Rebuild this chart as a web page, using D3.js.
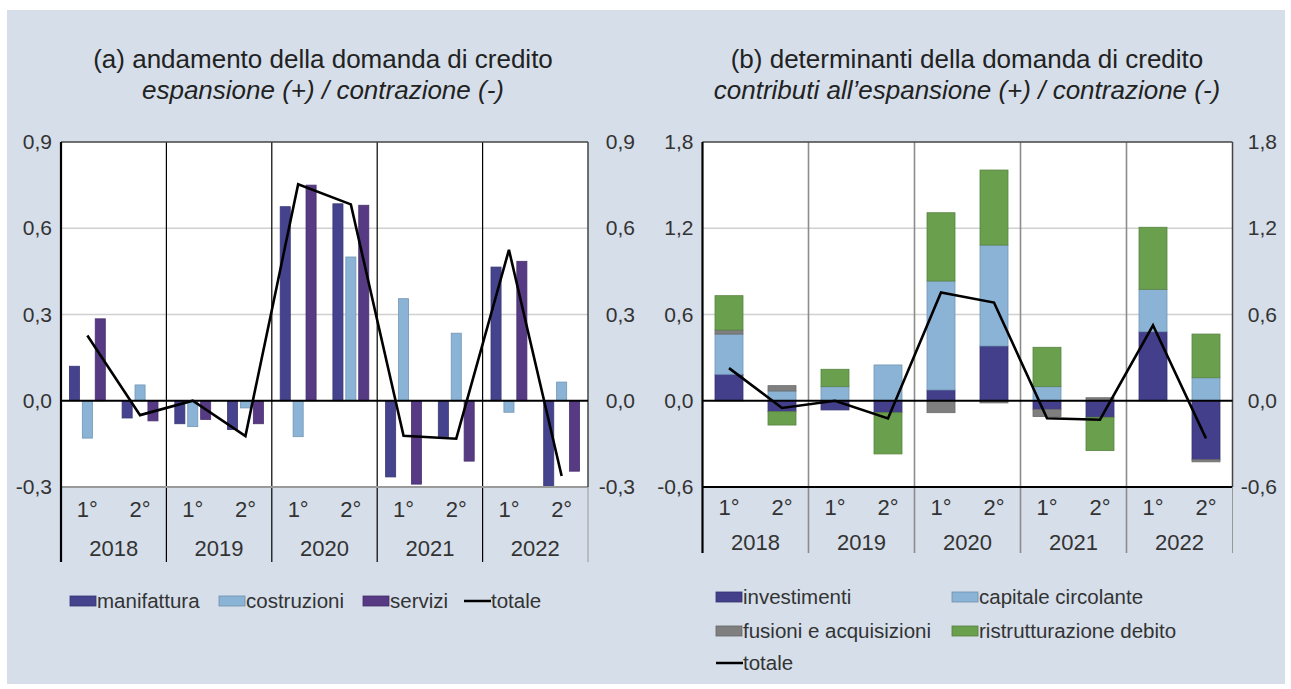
<!DOCTYPE html>
<html>
<head>
<meta charset="utf-8">
<script src="https://cdn.jsdelivr.net/npm/d3@7"></script>
<style>
  body { margin: 0; background: #fff; }
  svg text { font-family: "Liberation Sans", Arial, sans-serif; fill: #333; }
  .title { font-size: 26px; fill: #222; }
  .tick-label { font-size: 21px; }
  .cat-label { font-size: 22px; }
  .legend-label { font-size: 20.5px; }
</style>
</head>
<body>
<svg id="chart" width="1291" height="689"></svg>
<script>
// periods (half-years)
const years = ['2018', '2019', '2020', '2021', '2022']
const halves = ['1°', '2°']
const periods = years.flatMap(y => halves.map(h => y + ' ' + h))

// (a) andamento della domanda di credito
const manifattura = [0.12, -0.06, -0.08, -0.10, 0.675, 0.685, -0.265, -0.125, 0.465, -0.30]
const costruzioni = [-0.13, 0.055, -0.09, -0.025, -0.125, 0.50, 0.355, 0.235, -0.04, 0.065]
const servizi = [0.285, -0.07, -0.065, -0.08, 0.75, 0.68, -0.29, -0.21, 0.485, -0.245]
const totale = [0.227, -0.05, 0.0, -0.123, 0.753, 0.683, -0.122, -0.132, 0.525, -0.262]

// (b) determinanti della domanda di credito
const investimenti = [0.184, -0.076, -0.064, -0.083, 0.075, 0.381, -0.06, -0.115, 0.48, -0.41]
const capitale = [0.28, 0.068, 0.098, 0.249, 0.758, 0.702, 0.098, 0, 0.295, 0.16]
const fusioni = [0.028, 0.037, 0, 0, -0.083, -0.015, -0.05, 0.021, 0, -0.015]
const ristrutturazione = [0.239, -0.093, 0.121, -0.287, 0.475, 0.522, 0.274, -0.232, 0.432, 0.304]

const ticksA = [-0.3, 0, 0.3, 0.6, 0.9]
const ticksB = [-0.6, 0, 0.6, 1.2, 1.8]

const colA = { manifattura: '#45438d', costruzioni: '#8ab3d6', servizi: '#573a84' }
const colB = { investimenti: '#433f8a', capitale: '#8ab3d6', fusioni: '#7f7f7f', ristrutturazione: '#6a9f4e' }

const fmt = v => d3.format('.1f')(v).replace('.', ',').replace('−', '-')

let svg = d3.select('#chart')

svg.append('rect')
.attr('x', 7).attr('y', 10)
.attr('width', 1278).attr('height', 674)
.attr('fill', '#d5dee9')

const plotTop = 142, plotBottom = 487

// ---------- common frame ----------
function drawFrame(g, x, y, ticks, opts){

	let [x0, x1] = x.range()

	g.append('rect')
	.attr('x', x0).attr('y', plotTop)
	.attr('width', x1 - x0).attr('height', plotBottom - plotTop)
	.attr('fill', '#fff')

	// horizontal grid
	g.selectAll('.grid')
	.data(ticks.filter(t => t != 0 && t != ticks[0] && t != ticks[ticks.length - 1]))
	.enter()
	.append('line')
	.attr('x1', x0).attr('x2', x1)
	.attr('y1', d => y(d)).attr('y2', d => y(d))
	.attr('stroke', '#d0d0d0')
	.attr('stroke-width', 1.5)

	// year dividers, running down into the category axis
	g.selectAll('.divider')
	.data(years.slice(1))
	.enter()
	.append('line')
	.attr('x1', d => x(d + ' 1°')).attr('x2', d => x(d + ' 1°'))
	.attr('y1', plotTop).attr('y2', opts.divEnd)
	.attr('stroke', opts.divColor)
	.attr('stroke-width', opts.divWidth)

	// quarter and year labels
	g.selectAll('.half')
	.data(periods)
	.enter()
	.append('text')
	.attr('class', 'cat-label')
	.attr('x', d => x(d) + x.bandwidth() / 2)
	.attr('y', opts.halfY)
	.attr('text-anchor', 'middle')
	.text(d => d.split(' ')[1])

	g.selectAll('.year')
	.data(years)
	.enter()
	.append('text')
	.attr('class', 'cat-label')
	.attr('x', d => x(d + ' 1°') + x.bandwidth())
	.attr('y', opts.yearY)
	.attr('text-anchor', 'middle')
	.text(d => d)

	// tick labels both sides
	ticks.forEach(t => {
		g.append('text')
		.attr('class', 'tick-label')
		.attr('x', x0 - 9).attr('y', y(t) + 7)
		.attr('text-anchor', 'end')
		.text(fmt(t))

		g.append('text')
		.attr('class', 'tick-label')
		.attr('x', opts.rightTickX).attr('y', y(t) + 7)
		.attr('text-anchor', 'end')
		.text(fmt(t))
	})
}

function drawBorders(g, x, y, opts){
	let [x0, x1] = x.range()

	g.append('line')
	.attr('x1', x0).attr('x2', x1).attr('y1', plotTop).attr('y2', plotTop)
	.attr('stroke', '#444').attr('stroke-width', 1.5)

	g.append('line')
	.attr('x1', x0).attr('x2', x1).attr('y1', plotBottom).attr('y2', plotBottom)
	.attr('stroke', opts.bottomColor).attr('stroke-width', 2)

	g.append('line')
	.attr('x1', x1).attr('x2', x1).attr('y1', plotTop).attr('y2', plotBottom)
	.attr('stroke', '#444').attr('stroke-width', 1.5)

	g.append('line')
	.attr('x1', x1).attr('x2', x1).attr('y1', plotBottom).attr('y2', opts.divEnd)
	.attr('stroke', '#999').attr('stroke-width', 1)

	// zero line
	g.append('line')
	.attr('x1', x0).attr('x2', x1).attr('y1', y(0)).attr('y2', y(0))
	.attr('stroke', '#000').attr('stroke-width', 2.2)

	// left axis
	g.append('line')
	.attr('x1', x0).attr('x2', x0).attr('y1', plotTop).attr('y2', opts.divEnd)
	.attr('stroke', '#000').attr('stroke-width', 2.2)
}

function drawTotal(g, x, y){
	let line = d3.line()
	.x((d, i) => x(periods[i]) + x.bandwidth() / 2)
	.y(d => y(d))

	g.append('path')
	.datum(totale)
	.attr('d', line)
	.attr('fill', 'none')
	.attr('stroke', '#000')
	.attr('stroke-width', 2.6)
	.attr('stroke-linejoin', 'miter')
}

function legendItem(g, lx, ly, label, color, isLine){
	if(isLine){
		g.append('line')
		.attr('x1', lx).attr('x2', lx + 27)
		.attr('y1', ly).attr('y2', ly)
		.attr('stroke', '#000').attr('stroke-width', 2.5)
	}
	else{
		g.append('rect')
		.attr('x', lx).attr('y', ly - 5)
		.attr('width', 26).attr('height', 10)
		.attr('fill', color)
		.attr('stroke', d3.color(color).darker(0.6))
		.attr('stroke-width', 0.8)
	}
	g.append('text')
	.attr('class', 'legend-label')
	.attr('x', lx + 27).attr('y', ly + 7)
	.text(label)
}

// ---------- (a) ----------
let gA = svg.append('g')

let xA = d3.scaleBand().domain(periods).range([61, 588])
let yA = d3.scaleLinear().domain([-0.3, 0.9]).range([plotBottom, plotTop])
let seriesA = ['manifattura', 'costruzioni', 'servizi']
let valsA = { manifattura, costruzioni, servizi }
let xA1 = d3.scaleBand().domain(seriesA)
.range([8.4, xA.bandwidth() - 8.4]).paddingInner(0.22)

let optsA = { divEnd: 562, divColor: '#000', divWidth: 1.2, halfY: 517, yearY: 556, rightTickX: 635, bottomColor: '#9a9a9a' }
drawFrame(gA, xA, yA, ticksA, optsA)

let plotA = gA.append('g')
seriesA.forEach(s => {
	plotA.selectAll('.bar-' + s)
	.data(valsA[s])
	.enter()
	.append('rect')
	.attr('x', (d, i) => xA(periods[i]) + xA1(s))
	.attr('width', xA1.bandwidth())
	.attr('y', d => yA(Math.max(0, d)))
	.attr('height', d => Math.abs(yA(d) - yA(0)))
	.attr('fill', colA[s])
	.attr('stroke', d3.color(colA[s]).darker(0.5))
	.attr('stroke-width', 0.8)
})

drawBorders(gA, xA, yA, optsA)
drawTotal(gA, xA, yA)

gA.append('text').attr('class', 'title')
.attr('x', 323).attr('y', 68).attr('text-anchor', 'middle')
.text('(a) andamento della domanda di credito')
gA.append('text').attr('class', 'title')
.attr('x', 323).attr('y', 99).attr('text-anchor', 'middle')
.style('font-style', 'italic')
.text('espansione (+) / contrazione (-)')

legendItem(gA, 70, 601, 'manifattura', colA.manifattura)
legendItem(gA, 219, 601, 'costruzioni', colA.costruzioni)
legendItem(gA, 363, 601, 'servizi', colA.servizi)
legendItem(gA, 464, 601, 'totale', null, true)

// ---------- (b) ----------
let gB = svg.append('g')

let xB = d3.scaleBand().domain(periods).range([702.5, 1232.5])
let yB = d3.scaleLinear().domain([-0.6, 1.8]).range([plotBottom, plotTop])
let keysB = ['investimenti', 'capitale', 'fusioni', 'ristrutturazione']
let tableB = periods.map((p, i) => ({
	period: p,
	investimenti: investimenti[i],
	capitale: capitale[i],
	fusioni: fusioni[i],
	ristrutturazione: ristrutturazione[i]
}))
let stackB = d3.stack().keys(keysB).offset(d3.stackOffsetDiverging)(tableB)
let barW = 28

let optsB = { divEnd: 553, divColor: '#8c8c8c', divWidth: 1.6, halfY: 515, yearY: 550, rightTickX: 1277, bottomColor: '#000' }
drawFrame(gB, xB, yB, ticksB, optsB)

let plotB = gB.append('g')
stackB.forEach(layer => {
	plotB.selectAll('.seg-' + layer.key)
	.data(layer.filter(d => d[1] - d[0] != 0))
	.enter()
	.append('rect')
	.attr('x', d => xB(d.data.period) + (xB.bandwidth() - barW) / 2)
	.attr('width', barW)
	.attr('y', d => yB(d[1]))
	.attr('height', d => yB(d[0]) - yB(d[1]))
	.attr('fill', colB[layer.key])
	.attr('stroke', d3.color(colB[layer.key]).darker(0.5))
	.attr('stroke-width', 0.8)
})

drawBorders(gB, xB, yB, optsB)
drawTotal(gB, xB, yB)

gB.append('text').attr('class', 'title')
.attr('x', 967).attr('y', 68).attr('text-anchor', 'middle')
.text('(b) determinanti della domanda di credito')
gB.append('text').attr('class', 'title')
.attr('x', 967).attr('y', 99).attr('text-anchor', 'middle')
.style('font-style', 'italic')
.text('contributi all’espansione (+) / contrazione (-)')

legendItem(gB, 716, 597, 'investimenti', colB.investimenti)
legendItem(gB, 952, 597, 'capitale circolante', colB.capitale)
legendItem(gB, 716, 631, 'fusioni e acquisizioni', colB.fusioni)
legendItem(gB, 952, 631, 'ristrutturazione debito', colB.ristrutturazione)
legendItem(gB, 716, 663, 'totale', null, true)
</script>
</body>
</html>
